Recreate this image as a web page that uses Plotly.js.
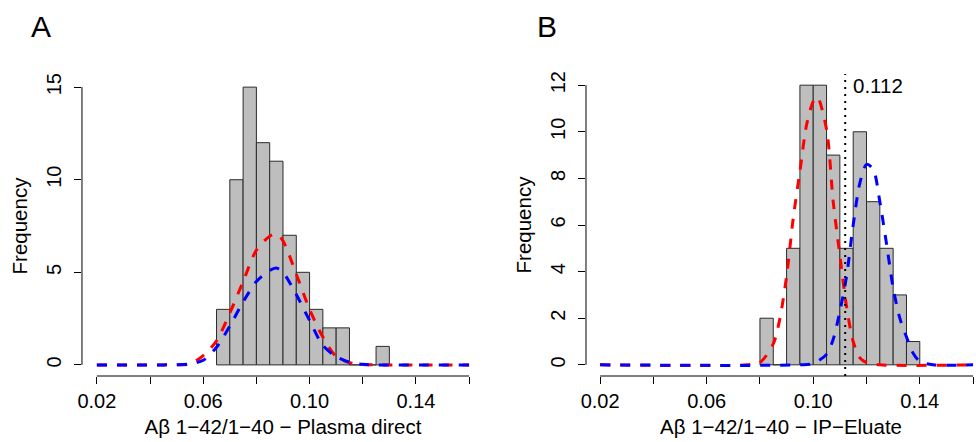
<!DOCTYPE html>
<html>
<head>
<meta charset="utf-8">
<script src="https://cdn.plot.ly/plotly-3.0.1.min.js"></script>
<style>html,body{margin:0;padding:0;background:#fff;}#chart{width:976px;height:442px;}</style>
</head>
<body>
<div id="chart"></div>
<script>
// ---- Panel A: Plasma direct ----
const binWidth = 0.005;
const binStartsA = [0.065, 0.070, 0.075, 0.080, 0.085, 0.090, 0.095, 0.100, 0.105, 0.110, 0.115, 0.120, 0.125];
const countsA    = [3, 10, 15, 12, 11, 7, 5, 3, 2, 2, 0, 0, 1];
const curveXA    = [0.02, 0.045, 0.05, 0.055, 0.06, 0.065, 0.07, 0.075, 0.08, 0.085, 0.0875, 0.09, 0.095, 0.10, 0.105, 0.11, 0.115, 0.12, 0.125, 0.16];
const redA       = [0, 0, 0.01, 0.05, 0.5, 1.3, 2.8, 4.5, 6.2, 6.95, 7.07, 6.7, 4.9, 3.0, 1.5, 0.45, 0.12, 0.02, 0, 0];
const blueA      = [0, 0, 0.01, 0.05, 0.25, 0.95, 2.1, 3.4, 4.5, 5.1, 5.23, 5.0, 3.8, 2.4, 1.05, 0.45, 0.14, 0.03, 0, 0];

// ---- Panel B: IP-Eluate ----
const binStartsB = [0.080, 0.085, 0.090, 0.095, 0.100, 0.105, 0.110, 0.115, 0.120, 0.125, 0.130, 0.135];
const countsB    = [2, 0, 5, 12, 12, 9, 5, 10, 7, 5, 3, 1];
const redXB      = [0.02, 0.075, 0.08, 0.085, 0.0875, 0.09, 0.0925, 0.095, 0.0975, 0.10, 0.1015, 0.105, 0.1075, 0.11, 0.1125, 0.115, 0.1175, 0.12, 0.125, 0.16];
const redB       = [0, 0, 0.1, 0.9, 2.0, 3.8, 6.3, 8.3, 10.3, 11.3, 11.5, 10.1, 7.0, 4.7, 2.5, 1.0, 0.3, 0.1, 0, 0];
const blueXB     = [0.02, 0.095, 0.10, 0.105, 0.1075, 0.11, 0.1125, 0.115, 0.1175, 0.12, 0.1225, 0.125, 0.1275, 0.13, 0.1325, 0.135, 0.1375, 0.14, 0.145, 0.16];
const blueB      = [0, 0, 0.06, 0.45, 1.1, 2.3, 3.8, 6.0, 7.8, 8.6, 8.4, 7.0, 5.2, 3.3, 2.0, 1.2, 0.5, 0.15, 0, 0];
const cutoffB    = 0.112;

const xTickVals  = [0.02, 0.04, 0.06, 0.08, 0.10, 0.12, 0.14, 0.16];
const xTickText  = ['0.02', '', '0.06', '', '0.10', '', '0.14', ''];
const yTicksA    = [0, 5, 10, 15];
const yTicksB    = [0, 2, 4, 6, 8, 10, 12];
const xTitleA    = 'Aβ 1−42/1−40 − Plasma direct';
const xTitleB    = 'Aβ 1−42/1−40 − IP−Eluate';
const yTitle     = 'Frequency';

const FONT = 'Liberation Sans, Arial, Helvetica, sans-serif';
const mid = (starts) => starts.map(s => s + binWidth / 2);

function bars(starts, counts, xa, ya) {
  return {type: 'bar', x: mid(starts), y: counts, width: binWidth, xaxis: xa, yaxis: ya,
    marker: {color: '#bebebe', line: {color: '#2b2b2b', width: 1}}, hoverinfo: 'skip', showlegend: false};
}
function curve(x, y, color, xa, ya) {
  return {type: 'scatter', mode: 'lines', x: x, y: y, xaxis: xa, yaxis: ya,
    line: {color: color, width: 3, dash: '10px,10px', shape: 'spline', smoothing: 0.8},
    hoverinfo: 'skip', showlegend: false};
}

const data = [
  bars(binStartsA, countsA, 'x', 'y'),
  curve(curveXA, redA, '#ff0000', 'x', 'y'),
  curve(curveXA, blueA, '#0000ff', 'x', 'y'),
  bars(binStartsB, countsB, 'x2', 'y2'),
  curve(redXB, redB, '#ff0000', 'x2', 'y2'),
  curve(blueXB, blueB, '#0000ff', 'x2', 'y2')
];

const tickFont = {family: FONT, size: 20, color: '#000'};
const titleFont = {family: FONT, size: 20.5, color: '#000'};
function xAxis(domain, range, title, anchor) {
  return {domain: domain, range: range, anchor: anchor, tickvals: xTickVals, ticktext: xTickText,
    ticks: 'outside', ticklen: 7, tickwidth: 1, tickcolor: '#000', showline: false, showgrid: false,
    zeroline: false, tickfont: tickFont, fixedrange: true,
    title: {text: title, font: titleFont, standoff: 8}};
}
function yAxis(domain, range, tickvals, anchor) {
  return {domain: domain, range: range, anchor: anchor, tickvals: tickvals, tickangle: -90,
    ticks: 'outside', ticklen: 7, tickwidth: 1, tickcolor: '#000', showline: false, showgrid: false,
    zeroline: false, tickfont: tickFont, fixedrange: true, ticklabelstandoff: 5,
    title: {text: yTitle, font: titleFont, standoff: 9}};
}

const layout = {
  width: 976, height: 442,
  margin: {l: 0, r: 0, t: 0, b: 0},
  paper_bgcolor: '#fff', plot_bgcolor: 'rgba(0,0,0,0)',
  bargap: 0,
  xaxis: xAxis([0.0840, 0.4959], [0.0144, 0.1656], xTitleA, 'y'),
  yaxis: yAxis([0.1493, 0.828], [-0.6, 15.6], yTicksA, 'x'),
  xaxis2: xAxis([0.6004, 1.0], [0.0147, 0.1611], xTitleB, 'y2'),
  yaxis2: yAxis([0.1493, 0.8326], [-0.48, 12.48], yTicksB, 'x2'),
  shapes: [
    {type: 'line', xref: 'x', yref: 'y domain', x0: xTickVals[0], x1: xTickVals[xTickVals.length - 1], y0: 0, y1: 0, line: {color: '#000', width: 1}},
    {type: 'line', xref: 'x domain', yref: 'y', x0: 0, x1: 0, y0: yTicksA[0], y1: yTicksA[yTicksA.length - 1], line: {color: '#000', width: 1}},
    {type: 'line', xref: 'x2', yref: 'y2 domain', x0: xTickVals[0], x1: xTickVals[xTickVals.length - 1], y0: 0, y1: 0, line: {color: '#000', width: 1}},
    {type: 'line', xref: 'x2 domain', yref: 'y2', x0: 0, x1: 0, y0: yTicksB[0], y1: yTicksB[yTicksB.length - 1], line: {color: '#000', width: 1}},
    {type: 'line', xref: 'x2', yref: 'y2 domain', x0: cutoffB, x1: cutoffB, y0: 0, y1: 1, line: {color: '#000', width: 2, dash: '2px,5px'}}
  ],
  annotations: [
    {text: 'A', xref: 'paper', yref: 'paper', x: 41 / 976, y: 1 - 26 / 442, xanchor: 'center', yanchor: 'middle', showarrow: false, font: {family: FONT, size: 30, color: '#000'}},
    {text: 'B', xref: 'paper', yref: 'paper', x: 547 / 976, y: 1 - 26 / 442, xanchor: 'center', yanchor: 'middle', showarrow: false, font: {family: FONT, size: 30, color: '#000'}},
    {text: String(cutoffB), xref: 'x2', yref: 'y2', x: cutoffB, y: 12, xanchor: 'left', yanchor: 'middle', xshift: 6, showarrow: false, font: {family: FONT, size: 20.5, color: '#000'}}
  ]
};

Plotly.newPlot('chart', data, layout, {displayModeBar: false, staticPlot: true});
</script>
</body>
</html>
